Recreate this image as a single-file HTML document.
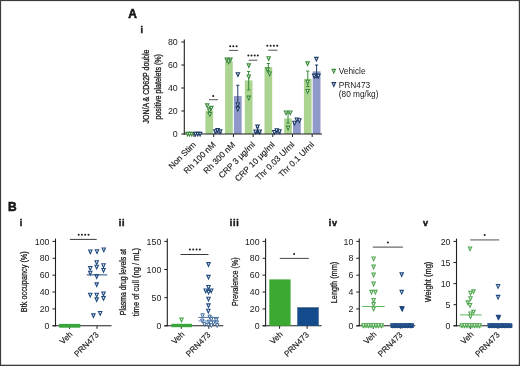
<!DOCTYPE html>
<html><head><meta charset="utf-8"><style>
html,body{margin:0;padding:0;background:#fff;overflow:hidden;width:520px;height:366px;}
svg{display:block;font-family:"Liberation Sans", sans-serif;will-change:transform;filter:blur(0.25px);}
</style></head><body>
<svg width="520" height="366" viewBox="0 0 520 366">
<rect x="0.00" y="0.00" width="520.00" height="1.10" fill="#3c3c3c"/>
<rect x="0.00" y="0.00" width="1.10" height="366.00" fill="#3c3c3c"/>
<rect x="518.80" y="0.00" width="1.20" height="366.00" fill="#3c3c3c"/>
<rect x="0.00" y="364.70" width="520.00" height="1.30" fill="#3c3c3c"/>
<text x="128.20" y="17.80" font-size="12" text-anchor="start" font-weight="bold" fill="#1a1a1a" stroke="#111" stroke-width="0.55">A</text>
<text x="140.60" y="32.80" font-size="9" text-anchor="start" font-weight="bold" fill="#1a1a1a" stroke="#111" stroke-width="0.45">i</text>
<line x1="184.30" y1="39.50" x2="184.30" y2="134.50" stroke="#1e1e1e" stroke-width="1.1"/>
<line x1="181.30" y1="134.00" x2="184.30" y2="134.00" stroke="#1e1e1e" stroke-width="1"/>
<text x="177.70" y="137.10" font-size="8.8" text-anchor="end" font-weight="normal" fill="#1a1a1a">0</text>
<line x1="181.30" y1="111.00" x2="184.30" y2="111.00" stroke="#1e1e1e" stroke-width="1"/>
<text x="177.70" y="114.10" font-size="8.8" text-anchor="end" font-weight="normal" fill="#1a1a1a">20</text>
<line x1="181.30" y1="88.00" x2="184.30" y2="88.00" stroke="#1e1e1e" stroke-width="1"/>
<text x="177.70" y="91.10" font-size="8.8" text-anchor="end" font-weight="normal" fill="#1a1a1a">40</text>
<line x1="181.30" y1="65.00" x2="184.30" y2="65.00" stroke="#1e1e1e" stroke-width="1"/>
<text x="177.70" y="68.10" font-size="8.8" text-anchor="end" font-weight="normal" fill="#1a1a1a">60</text>
<line x1="181.30" y1="42.00" x2="184.30" y2="42.00" stroke="#1e1e1e" stroke-width="1"/>
<text x="177.70" y="45.10" font-size="8.8" text-anchor="end" font-weight="normal" fill="#1a1a1a">80</text>
<text x="148.70" y="86.50" font-size="8.5" text-anchor="middle" font-weight="normal" fill="#1a1a1a" textLength="74" lengthAdjust="spacingAndGlyphs" transform="rotate(-90 148.70 86.50)" stroke="#1a1a1a" stroke-width="0.3">JON/A &amp; CD62P double</text>
<text x="161.00" y="86.80" font-size="8.5" text-anchor="middle" font-weight="normal" fill="#1a1a1a" textLength="65.5" lengthAdjust="spacingAndGlyphs" transform="rotate(-90 161.00 86.80)" stroke="#1a1a1a" stroke-width="0.3">positive platelets (%)</text>
<rect x="185.70" y="132.28" width="7.70" height="1.72" fill="#abd491"/>
<rect x="194.50" y="132.62" width="7.80" height="1.38" fill="#8f99c9"/>
<rect x="205.40" y="110.66" width="7.70" height="23.34" fill="#abd491"/>
<rect x="214.20" y="131.70" width="7.80" height="2.30" fill="#8f99c9"/>
<rect x="225.10" y="61.55" width="7.70" height="72.45" fill="#abd491"/>
<rect x="233.90" y="96.05" width="7.80" height="37.95" fill="#8f99c9"/>
<rect x="244.80" y="80.41" width="7.70" height="53.59" fill="#abd491"/>
<rect x="253.60" y="130.32" width="7.80" height="3.68" fill="#8f99c9"/>
<rect x="264.50" y="67.07" width="7.70" height="66.93" fill="#abd491"/>
<rect x="273.30" y="131.47" width="7.80" height="2.53" fill="#8f99c9"/>
<rect x="284.20" y="118.47" width="7.70" height="15.53" fill="#abd491"/>
<rect x="293.00" y="121.35" width="7.80" height="12.65" fill="#8f99c9"/>
<rect x="303.90" y="78.80" width="7.70" height="55.20" fill="#abd491"/>
<rect x="312.70" y="71.33" width="7.80" height="62.67" fill="#8f99c9"/>
<line x1="209.25" y1="107.78" x2="209.25" y2="113.53" stroke="#3a8a3a" stroke-width="1"/>
<line x1="207.65" y1="107.78" x2="210.85" y2="107.78" stroke="#3a8a3a" stroke-width="1"/>
<line x1="207.65" y1="113.53" x2="210.85" y2="113.53" stroke="#3a8a3a" stroke-width="1"/>
<line x1="237.80" y1="85.24" x2="237.80" y2="106.86" stroke="#1c3a66" stroke-width="1"/>
<line x1="236.20" y1="85.24" x2="239.40" y2="85.24" stroke="#1c3a66" stroke-width="1"/>
<line x1="236.20" y1="106.86" x2="239.40" y2="106.86" stroke="#1c3a66" stroke-width="1"/>
<line x1="248.65" y1="71.44" x2="248.65" y2="89.96" stroke="#3a8a3a" stroke-width="1"/>
<line x1="247.05" y1="71.44" x2="250.25" y2="71.44" stroke="#3a8a3a" stroke-width="1"/>
<line x1="247.05" y1="89.96" x2="250.25" y2="89.96" stroke="#3a8a3a" stroke-width="1"/>
<line x1="268.35" y1="63.51" x2="268.35" y2="70.98" stroke="#3a8a3a" stroke-width="1"/>
<line x1="266.75" y1="63.51" x2="269.95" y2="63.51" stroke="#3a8a3a" stroke-width="1"/>
<line x1="266.75" y1="70.98" x2="269.95" y2="70.98" stroke="#3a8a3a" stroke-width="1"/>
<line x1="288.05" y1="112.95" x2="288.05" y2="123.08" stroke="#3a8a3a" stroke-width="1"/>
<line x1="286.45" y1="112.95" x2="289.65" y2="112.95" stroke="#3a8a3a" stroke-width="1"/>
<line x1="286.45" y1="123.08" x2="289.65" y2="123.08" stroke="#3a8a3a" stroke-width="1"/>
<line x1="307.75" y1="71.09" x2="307.75" y2="86.51" stroke="#3a8a3a" stroke-width="1"/>
<line x1="306.15" y1="71.09" x2="309.35" y2="71.09" stroke="#3a8a3a" stroke-width="1"/>
<line x1="306.15" y1="86.51" x2="309.35" y2="86.51" stroke="#3a8a3a" stroke-width="1"/>
<line x1="316.60" y1="65.00" x2="316.60" y2="77.65" stroke="#1c3a66" stroke-width="1"/>
<line x1="315.00" y1="65.00" x2="318.20" y2="65.00" stroke="#1c3a66" stroke-width="1"/>
<line x1="315.00" y1="77.65" x2="318.20" y2="77.65" stroke="#1c3a66" stroke-width="1"/>
<line x1="257.50" y1="127.67" x2="257.50" y2="132.85" stroke="#1c3a66" stroke-width="1"/>
<line x1="255.90" y1="127.67" x2="259.10" y2="127.67" stroke="#1c3a66" stroke-width="1"/>
<line x1="255.90" y1="132.85" x2="259.10" y2="132.85" stroke="#1c3a66" stroke-width="1"/>
<line x1="183.80" y1="134.00" x2="322.00" y2="134.00" stroke="#1e1e1e" stroke-width="1.1"/>
<line x1="194.00" y1="134.00" x2="194.00" y2="137.00" stroke="#1e1e1e" stroke-width="1"/>
<line x1="213.70" y1="134.00" x2="213.70" y2="137.00" stroke="#1e1e1e" stroke-width="1"/>
<line x1="233.40" y1="134.00" x2="233.40" y2="137.00" stroke="#1e1e1e" stroke-width="1"/>
<line x1="253.10" y1="134.00" x2="253.10" y2="137.00" stroke="#1e1e1e" stroke-width="1"/>
<line x1="272.80" y1="134.00" x2="272.80" y2="137.00" stroke="#1e1e1e" stroke-width="1"/>
<line x1="292.50" y1="134.00" x2="292.50" y2="137.00" stroke="#1e1e1e" stroke-width="1"/>
<line x1="312.20" y1="134.00" x2="312.20" y2="137.00" stroke="#1e1e1e" stroke-width="1"/>
<polygon points="185.90,132.35 189.30,132.35 187.60,136.05" fill="#fff" stroke="#3a8a3a" stroke-width="1.1" stroke-linejoin="miter"/>
<polygon points="187.80,132.35 191.20,132.35 189.50,136.05" fill="#fff" stroke="#3a8a3a" stroke-width="1.1" stroke-linejoin="miter"/>
<polygon points="190.10,132.35 193.50,132.35 191.80,136.05" fill="#fff" stroke="#3a8a3a" stroke-width="1.1" stroke-linejoin="miter"/>
<polygon points="205.50,103.85 208.90,103.85 207.20,107.55" fill="#fff" stroke="#3a8a3a" stroke-width="1.1" stroke-linejoin="miter"/>
<polygon points="209.60,106.35 213.00,106.35 211.30,110.05" fill="#fff" stroke="#3a8a3a" stroke-width="1.1" stroke-linejoin="miter"/>
<polygon points="207.70,108.95 211.10,108.95 209.40,112.65" fill="#fff" stroke="#3a8a3a" stroke-width="1.1" stroke-linejoin="miter"/>
<polygon points="208.10,112.55 211.50,112.55 209.80,116.25" fill="#fff" stroke="#3a8a3a" stroke-width="1.1" stroke-linejoin="miter"/>
<polygon points="225.10,58.15 228.50,58.15 226.80,61.85" fill="#fff" stroke="#3a8a3a" stroke-width="1.1" stroke-linejoin="miter"/>
<polygon points="228.70,58.15 232.10,58.15 230.40,61.85" fill="#fff" stroke="#3a8a3a" stroke-width="1.1" stroke-linejoin="miter"/>
<polygon points="226.90,59.95 230.30,59.95 228.60,63.65" fill="#fff" stroke="#3a8a3a" stroke-width="1.1" stroke-linejoin="miter"/>
<polygon points="247.10,63.85 250.50,63.85 248.80,67.55" fill="#fff" stroke="#3a8a3a" stroke-width="1.1" stroke-linejoin="miter"/>
<polygon points="247.10,74.95 250.50,74.95 248.80,78.65" fill="#fff" stroke="#3a8a3a" stroke-width="1.1" stroke-linejoin="miter"/>
<polygon points="247.10,96.15 250.50,96.15 248.80,99.85" fill="#fff" stroke="#3a8a3a" stroke-width="1.1" stroke-linejoin="miter"/>
<polygon points="267.00,56.75 270.40,56.75 268.70,60.45" fill="#fff" stroke="#3a8a3a" stroke-width="1.1" stroke-linejoin="miter"/>
<polygon points="265.70,67.85 269.10,67.85 267.40,71.55" fill="#fff" stroke="#3a8a3a" stroke-width="1.1" stroke-linejoin="miter"/>
<polygon points="267.90,71.95 271.30,71.95 269.60,75.65" fill="#fff" stroke="#3a8a3a" stroke-width="1.1" stroke-linejoin="miter"/>
<polygon points="284.30,111.05 287.70,111.05 286.00,114.75" fill="#fff" stroke="#3a8a3a" stroke-width="1.1" stroke-linejoin="miter"/>
<polygon points="288.60,111.05 292.00,111.05 290.30,114.75" fill="#fff" stroke="#3a8a3a" stroke-width="1.1" stroke-linejoin="miter"/>
<polygon points="286.40,126.15 289.80,126.15 288.10,129.85" fill="#fff" stroke="#3a8a3a" stroke-width="1.1" stroke-linejoin="miter"/>
<polygon points="305.90,61.85 309.30,61.85 307.60,65.55" fill="#fff" stroke="#3a8a3a" stroke-width="1.1" stroke-linejoin="miter"/>
<polygon points="305.90,80.25 309.30,80.25 307.60,83.95" fill="#fff" stroke="#3a8a3a" stroke-width="1.1" stroke-linejoin="miter"/>
<polygon points="305.90,89.45 309.30,89.45 307.60,93.15" fill="#fff" stroke="#3a8a3a" stroke-width="1.1" stroke-linejoin="miter"/>
<polygon points="193.80,132.35 197.20,132.35 195.50,136.05" fill="#fff" stroke="#1c3a66" stroke-width="1.1" stroke-linejoin="miter"/>
<polygon points="196.10,132.35 199.50,132.35 197.80,136.05" fill="#fff" stroke="#1c3a66" stroke-width="1.1" stroke-linejoin="miter"/>
<polygon points="198.40,132.35 201.80,132.35 200.10,136.05" fill="#fff" stroke="#1c3a66" stroke-width="1.1" stroke-linejoin="miter"/>
<polygon points="213.70,129.85 217.10,129.85 215.40,133.55" fill="#fff" stroke="#1c3a66" stroke-width="1.1" stroke-linejoin="miter"/>
<polygon points="215.90,128.65 219.30,128.65 217.60,132.35" fill="#fff" stroke="#1c3a66" stroke-width="1.1" stroke-linejoin="miter"/>
<polygon points="218.50,129.85 221.90,129.85 220.20,133.55" fill="#fff" stroke="#1c3a66" stroke-width="1.1" stroke-linejoin="miter"/>
<polygon points="236.20,72.75 239.60,72.75 237.90,76.45" fill="#fff" stroke="#1c3a66" stroke-width="1.1" stroke-linejoin="miter"/>
<polygon points="236.10,102.95 239.50,102.95 237.80,106.65" fill="#fff" stroke="#1c3a66" stroke-width="1.1" stroke-linejoin="miter"/>
<polygon points="236.10,107.15 239.50,107.15 237.80,110.85" fill="#fff" stroke="#1c3a66" stroke-width="1.1" stroke-linejoin="miter"/>
<polygon points="255.80,125.15 259.20,125.15 257.50,128.85" fill="#fff" stroke="#1c3a66" stroke-width="1.1" stroke-linejoin="miter"/>
<polygon points="254.00,130.05 257.40,130.05 255.70,133.75" fill="#fff" stroke="#1c3a66" stroke-width="1.1" stroke-linejoin="miter"/>
<polygon points="257.90,130.05 261.30,130.05 259.60,133.75" fill="#fff" stroke="#1c3a66" stroke-width="1.1" stroke-linejoin="miter"/>
<polygon points="272.60,130.45 276.00,130.45 274.30,134.15" fill="#fff" stroke="#1c3a66" stroke-width="1.1" stroke-linejoin="miter"/>
<polygon points="275.10,128.75 278.50,128.75 276.80,132.45" fill="#fff" stroke="#1c3a66" stroke-width="1.1" stroke-linejoin="miter"/>
<polygon points="277.80,129.75 281.20,129.75 279.50,133.45" fill="#fff" stroke="#1c3a66" stroke-width="1.1" stroke-linejoin="miter"/>
<polygon points="292.80,121.25 296.20,121.25 294.50,124.95" fill="#fff" stroke="#1c3a66" stroke-width="1.1" stroke-linejoin="miter"/>
<polygon points="295.20,118.05 298.60,118.05 296.90,121.75" fill="#fff" stroke="#1c3a66" stroke-width="1.1" stroke-linejoin="miter"/>
<polygon points="297.70,118.75 301.10,118.75 299.40,122.45" fill="#fff" stroke="#1c3a66" stroke-width="1.1" stroke-linejoin="miter"/>
<polygon points="314.70,57.35 318.10,57.35 316.40,61.05" fill="#fff" stroke="#1c3a66" stroke-width="1.1" stroke-linejoin="miter"/>
<polygon points="312.50,74.15 315.90,74.15 314.20,77.85" fill="#fff" stroke="#1c3a66" stroke-width="1.1" stroke-linejoin="miter"/>
<polygon points="316.70,74.15 320.10,74.15 318.40,77.85" fill="#fff" stroke="#1c3a66" stroke-width="1.1" stroke-linejoin="miter"/>
<line x1="209.00" y1="99.70" x2="218.00" y2="99.70" stroke="#555" stroke-width="1.0"/>
<circle cx="213.20" cy="95.90" r="1.0" fill="#1a1a1a"/>
<line x1="229.00" y1="50.40" x2="238.20" y2="50.40" stroke="#555" stroke-width="1.0"/>
<circle cx="230.20" cy="46.30" r="1.0" fill="#1a1a1a"/>
<circle cx="233.30" cy="46.30" r="1.0" fill="#1a1a1a"/>
<circle cx="236.60" cy="46.30" r="1.0" fill="#1a1a1a"/>
<line x1="248.60" y1="60.20" x2="257.50" y2="60.20" stroke="#555" stroke-width="1.0"/>
<circle cx="248.40" cy="55.60" r="1.0" fill="#1a1a1a"/>
<circle cx="251.50" cy="55.60" r="1.0" fill="#1a1a1a"/>
<circle cx="254.70" cy="55.60" r="1.0" fill="#1a1a1a"/>
<circle cx="257.80" cy="55.60" r="1.0" fill="#1a1a1a"/>
<line x1="268.20" y1="50.20" x2="277.50" y2="50.20" stroke="#555" stroke-width="1.0"/>
<circle cx="267.30" cy="45.80" r="1.0" fill="#1a1a1a"/>
<circle cx="270.60" cy="45.80" r="1.0" fill="#1a1a1a"/>
<circle cx="273.90" cy="45.80" r="1.0" fill="#1a1a1a"/>
<circle cx="277.20" cy="45.80" r="1.0" fill="#1a1a1a"/>
<text x="196.40" y="145.20" font-size="8.4" text-anchor="end" font-weight="normal" fill="#1a1a1a" transform="rotate(-45 196.40 145.20)" stroke="#1a1a1a" stroke-width="0.15">Non Stim</text>
<text x="216.10" y="145.20" font-size="8.4" text-anchor="end" font-weight="normal" fill="#1a1a1a" transform="rotate(-45 216.10 145.20)" stroke="#1a1a1a" stroke-width="0.15">Rh 100 nM</text>
<text x="235.80" y="145.20" font-size="8.4" text-anchor="end" font-weight="normal" fill="#1a1a1a" transform="rotate(-45 235.80 145.20)" stroke="#1a1a1a" stroke-width="0.15">Rh 300 nM</text>
<text x="255.50" y="145.20" font-size="8.4" text-anchor="end" font-weight="normal" fill="#1a1a1a" transform="rotate(-45 255.50 145.20)" stroke="#1a1a1a" stroke-width="0.15">CRP 3 μg/ml</text>
<text x="275.20" y="145.20" font-size="8.4" text-anchor="end" font-weight="normal" fill="#1a1a1a" transform="rotate(-45 275.20 145.20)" stroke="#1a1a1a" stroke-width="0.15">CRP 10 μg/ml</text>
<text x="294.90" y="145.20" font-size="8.4" text-anchor="end" font-weight="normal" fill="#1a1a1a" transform="rotate(-45 294.90 145.20)" stroke="#1a1a1a" stroke-width="0.15">Thr 0.03 U/ml</text>
<text x="314.60" y="145.20" font-size="8.4" text-anchor="end" font-weight="normal" fill="#1a1a1a" transform="rotate(-45 314.60 145.20)" stroke="#1a1a1a" stroke-width="0.15">Thr 0.1 U/ml</text>
<polygon points="332.10,69.35 335.50,69.35 333.80,73.05" fill="#fff" stroke="#3a8a3a" stroke-width="1.1" stroke-linejoin="miter"/>
<text x="338.80" y="73.80" font-size="8.3" text-anchor="start" font-weight="normal" fill="#1a1a1a">Vehicle</text>
<polygon points="332.10,82.65 335.50,82.65 333.80,86.35" fill="#fff" stroke="#1c3a66" stroke-width="1.1" stroke-linejoin="miter"/>
<text x="338.80" y="87.60" font-size="8.3" text-anchor="start" font-weight="normal" fill="#1a1a1a">PRN473</text>
<text x="338.80" y="96.80" font-size="8.3" text-anchor="start" font-weight="normal" fill="#1a1a1a">(80 mg/kg)</text>
<text x="7.90" y="210.90" font-size="12" text-anchor="start" font-weight="bold" fill="#1a1a1a" stroke="#111" stroke-width="0.55">B</text>
<text x="19.70" y="226.20" font-size="9" text-anchor="start" font-weight="bold" fill="#1a1a1a" letter-spacing="0.7" stroke="#111" stroke-width="0.45">i</text>
<text x="118.70" y="226.20" font-size="9" text-anchor="start" font-weight="bold" fill="#1a1a1a" letter-spacing="0.7" stroke="#111" stroke-width="0.45">ii</text>
<text x="229.80" y="226.20" font-size="9" text-anchor="start" font-weight="bold" fill="#1a1a1a" letter-spacing="0.7" stroke="#111" stroke-width="0.45">iii</text>
<text x="328.80" y="226.20" font-size="9" text-anchor="start" font-weight="bold" fill="#1a1a1a" letter-spacing="0.7" stroke="#111" stroke-width="0.45">iv</text>
<text x="422.90" y="226.20" font-size="9" text-anchor="start" font-weight="bold" fill="#1a1a1a" letter-spacing="0.7" stroke="#111" stroke-width="0.45">v</text>
<line x1="55.50" y1="238.60" x2="55.50" y2="326.30" stroke="#1e1e1e" stroke-width="1.1"/>
<line x1="52.50" y1="325.80" x2="111.50" y2="325.80" stroke="#1e1e1e" stroke-width="1.1"/>
<line x1="52.50" y1="325.80" x2="55.50" y2="325.80" stroke="#1e1e1e" stroke-width="1"/>
<text x="49.50" y="328.90" font-size="8.8" text-anchor="end" font-weight="normal" fill="#1a1a1a">0</text>
<line x1="52.50" y1="308.92" x2="55.50" y2="308.92" stroke="#1e1e1e" stroke-width="1"/>
<text x="49.50" y="312.02" font-size="8.8" text-anchor="end" font-weight="normal" fill="#1a1a1a">20</text>
<line x1="52.50" y1="292.04" x2="55.50" y2="292.04" stroke="#1e1e1e" stroke-width="1"/>
<text x="49.50" y="295.14" font-size="8.8" text-anchor="end" font-weight="normal" fill="#1a1a1a">40</text>
<line x1="52.50" y1="275.16" x2="55.50" y2="275.16" stroke="#1e1e1e" stroke-width="1"/>
<text x="49.50" y="278.26" font-size="8.8" text-anchor="end" font-weight="normal" fill="#1a1a1a">60</text>
<line x1="52.50" y1="258.28" x2="55.50" y2="258.28" stroke="#1e1e1e" stroke-width="1"/>
<text x="49.50" y="261.38" font-size="8.8" text-anchor="end" font-weight="normal" fill="#1a1a1a">80</text>
<line x1="52.50" y1="241.40" x2="55.50" y2="241.40" stroke="#1e1e1e" stroke-width="1"/>
<text x="49.50" y="244.50" font-size="8.8" text-anchor="end" font-weight="normal" fill="#1a1a1a">100</text>
<line x1="69.50" y1="325.80" x2="69.50" y2="328.80" stroke="#1e1e1e" stroke-width="1"/>
<line x1="97.00" y1="325.80" x2="97.00" y2="328.80" stroke="#1e1e1e" stroke-width="1"/>
<text x="73.10" y="334.80" font-size="8.2" text-anchor="end" font-weight="normal" fill="#1a1a1a" transform="rotate(-45 73.10 334.80)" stroke="#1a1a1a" stroke-width="0.15">Veh</text>
<text x="99.30" y="335.30" font-size="8.2" text-anchor="end" font-weight="normal" fill="#1a1a1a" transform="rotate(-45 99.30 335.30)" stroke="#1a1a1a" stroke-width="0.15">PRN473</text>
<line x1="167.30" y1="238.60" x2="167.30" y2="326.30" stroke="#1e1e1e" stroke-width="1.1"/>
<line x1="164.30" y1="325.80" x2="223.30" y2="325.80" stroke="#1e1e1e" stroke-width="1.1"/>
<line x1="164.30" y1="325.80" x2="167.30" y2="325.80" stroke="#1e1e1e" stroke-width="1"/>
<text x="161.30" y="328.90" font-size="8.8" text-anchor="end" font-weight="normal" fill="#1a1a1a">0</text>
<line x1="164.30" y1="297.67" x2="167.30" y2="297.67" stroke="#1e1e1e" stroke-width="1"/>
<text x="161.30" y="300.77" font-size="8.8" text-anchor="end" font-weight="normal" fill="#1a1a1a">50</text>
<line x1="164.30" y1="269.53" x2="167.30" y2="269.53" stroke="#1e1e1e" stroke-width="1"/>
<text x="161.30" y="272.63" font-size="8.8" text-anchor="end" font-weight="normal" fill="#1a1a1a">100</text>
<line x1="164.30" y1="241.40" x2="167.30" y2="241.40" stroke="#1e1e1e" stroke-width="1"/>
<text x="161.30" y="244.50" font-size="8.8" text-anchor="end" font-weight="normal" fill="#1a1a1a">150</text>
<line x1="181.30" y1="325.80" x2="181.30" y2="328.80" stroke="#1e1e1e" stroke-width="1"/>
<line x1="208.80" y1="325.80" x2="208.80" y2="328.80" stroke="#1e1e1e" stroke-width="1"/>
<text x="184.90" y="334.80" font-size="8.2" text-anchor="end" font-weight="normal" fill="#1a1a1a" transform="rotate(-45 184.90 334.80)" stroke="#1a1a1a" stroke-width="0.15">Veh</text>
<text x="211.10" y="335.30" font-size="8.2" text-anchor="end" font-weight="normal" fill="#1a1a1a" transform="rotate(-45 211.10 335.30)" stroke="#1a1a1a" stroke-width="0.15">PRN473</text>
<line x1="265.60" y1="238.60" x2="265.60" y2="326.30" stroke="#1e1e1e" stroke-width="1.1"/>
<line x1="262.60" y1="325.80" x2="321.60" y2="325.80" stroke="#1e1e1e" stroke-width="1.1"/>
<line x1="262.60" y1="325.80" x2="265.60" y2="325.80" stroke="#1e1e1e" stroke-width="1"/>
<text x="259.60" y="328.90" font-size="8.8" text-anchor="end" font-weight="normal" fill="#1a1a1a">0</text>
<line x1="262.60" y1="308.92" x2="265.60" y2="308.92" stroke="#1e1e1e" stroke-width="1"/>
<text x="259.60" y="312.02" font-size="8.8" text-anchor="end" font-weight="normal" fill="#1a1a1a">20</text>
<line x1="262.60" y1="292.04" x2="265.60" y2="292.04" stroke="#1e1e1e" stroke-width="1"/>
<text x="259.60" y="295.14" font-size="8.8" text-anchor="end" font-weight="normal" fill="#1a1a1a">40</text>
<line x1="262.60" y1="275.16" x2="265.60" y2="275.16" stroke="#1e1e1e" stroke-width="1"/>
<text x="259.60" y="278.26" font-size="8.8" text-anchor="end" font-weight="normal" fill="#1a1a1a">60</text>
<line x1="262.60" y1="258.28" x2="265.60" y2="258.28" stroke="#1e1e1e" stroke-width="1"/>
<text x="259.60" y="261.38" font-size="8.8" text-anchor="end" font-weight="normal" fill="#1a1a1a">80</text>
<line x1="262.60" y1="241.40" x2="265.60" y2="241.40" stroke="#1e1e1e" stroke-width="1"/>
<text x="259.60" y="244.50" font-size="8.8" text-anchor="end" font-weight="normal" fill="#1a1a1a">100</text>
<line x1="279.60" y1="325.80" x2="279.60" y2="328.80" stroke="#1e1e1e" stroke-width="1"/>
<line x1="307.10" y1="325.80" x2="307.10" y2="328.80" stroke="#1e1e1e" stroke-width="1"/>
<text x="283.20" y="334.80" font-size="8.2" text-anchor="end" font-weight="normal" fill="#1a1a1a" transform="rotate(-45 283.20 334.80)" stroke="#1a1a1a" stroke-width="0.15">Veh</text>
<text x="309.40" y="335.30" font-size="8.2" text-anchor="end" font-weight="normal" fill="#1a1a1a" transform="rotate(-45 309.40 335.30)" stroke="#1a1a1a" stroke-width="0.15">PRN473</text>
<line x1="359.30" y1="238.60" x2="359.30" y2="326.30" stroke="#1e1e1e" stroke-width="1.1"/>
<line x1="356.30" y1="325.80" x2="415.30" y2="325.80" stroke="#1e1e1e" stroke-width="1.1"/>
<line x1="356.30" y1="325.80" x2="359.30" y2="325.80" stroke="#1e1e1e" stroke-width="1"/>
<text x="353.30" y="328.90" font-size="8.8" text-anchor="end" font-weight="normal" fill="#1a1a1a">0</text>
<line x1="356.30" y1="308.92" x2="359.30" y2="308.92" stroke="#1e1e1e" stroke-width="1"/>
<text x="353.30" y="312.02" font-size="8.8" text-anchor="end" font-weight="normal" fill="#1a1a1a">2</text>
<line x1="356.30" y1="292.04" x2="359.30" y2="292.04" stroke="#1e1e1e" stroke-width="1"/>
<text x="353.30" y="295.14" font-size="8.8" text-anchor="end" font-weight="normal" fill="#1a1a1a">4</text>
<line x1="356.30" y1="275.16" x2="359.30" y2="275.16" stroke="#1e1e1e" stroke-width="1"/>
<text x="353.30" y="278.26" font-size="8.8" text-anchor="end" font-weight="normal" fill="#1a1a1a">6</text>
<line x1="356.30" y1="258.28" x2="359.30" y2="258.28" stroke="#1e1e1e" stroke-width="1"/>
<text x="353.30" y="261.38" font-size="8.8" text-anchor="end" font-weight="normal" fill="#1a1a1a">8</text>
<line x1="356.30" y1="241.40" x2="359.30" y2="241.40" stroke="#1e1e1e" stroke-width="1"/>
<text x="353.30" y="244.50" font-size="8.8" text-anchor="end" font-weight="normal" fill="#1a1a1a">10</text>
<line x1="373.30" y1="325.80" x2="373.30" y2="328.80" stroke="#1e1e1e" stroke-width="1"/>
<line x1="400.80" y1="325.80" x2="400.80" y2="328.80" stroke="#1e1e1e" stroke-width="1"/>
<text x="376.90" y="334.80" font-size="8.2" text-anchor="end" font-weight="normal" fill="#1a1a1a" transform="rotate(-45 376.90 334.80)" stroke="#1a1a1a" stroke-width="0.15">Veh</text>
<text x="403.10" y="335.30" font-size="8.2" text-anchor="end" font-weight="normal" fill="#1a1a1a" transform="rotate(-45 403.10 335.30)" stroke="#1a1a1a" stroke-width="0.15">PRN473</text>
<line x1="456.50" y1="238.60" x2="456.50" y2="326.30" stroke="#1e1e1e" stroke-width="1.1"/>
<line x1="453.50" y1="325.80" x2="512.50" y2="325.80" stroke="#1e1e1e" stroke-width="1.1"/>
<line x1="453.50" y1="325.80" x2="456.50" y2="325.80" stroke="#1e1e1e" stroke-width="1"/>
<text x="450.50" y="328.90" font-size="8.8" text-anchor="end" font-weight="normal" fill="#1a1a1a">0</text>
<line x1="453.50" y1="304.70" x2="456.50" y2="304.70" stroke="#1e1e1e" stroke-width="1"/>
<text x="450.50" y="307.80" font-size="8.8" text-anchor="end" font-weight="normal" fill="#1a1a1a">5</text>
<line x1="453.50" y1="283.60" x2="456.50" y2="283.60" stroke="#1e1e1e" stroke-width="1"/>
<text x="450.50" y="286.70" font-size="8.8" text-anchor="end" font-weight="normal" fill="#1a1a1a">10</text>
<line x1="453.50" y1="262.50" x2="456.50" y2="262.50" stroke="#1e1e1e" stroke-width="1"/>
<text x="450.50" y="265.60" font-size="8.8" text-anchor="end" font-weight="normal" fill="#1a1a1a">15</text>
<line x1="453.50" y1="241.40" x2="456.50" y2="241.40" stroke="#1e1e1e" stroke-width="1"/>
<text x="450.50" y="244.50" font-size="8.8" text-anchor="end" font-weight="normal" fill="#1a1a1a">20</text>
<line x1="470.50" y1="325.80" x2="470.50" y2="328.80" stroke="#1e1e1e" stroke-width="1"/>
<line x1="498.00" y1="325.80" x2="498.00" y2="328.80" stroke="#1e1e1e" stroke-width="1"/>
<text x="474.10" y="334.80" font-size="8.2" text-anchor="end" font-weight="normal" fill="#1a1a1a" transform="rotate(-45 474.10 334.80)" stroke="#1a1a1a" stroke-width="0.15">Veh</text>
<text x="500.30" y="335.30" font-size="8.2" text-anchor="end" font-weight="normal" fill="#1a1a1a" transform="rotate(-45 500.30 335.30)" stroke="#1a1a1a" stroke-width="0.15">PRN473</text>
<text x="27.50" y="281.70" font-size="8.4" text-anchor="middle" font-weight="normal" fill="#1a1a1a" textLength="61" lengthAdjust="spacingAndGlyphs" transform="rotate(-90 27.50 281.70)" stroke="#1a1a1a" stroke-width="0.25">Btk occupancy (%)</text>
<text x="126.30" y="282.10" font-size="8.4" text-anchor="middle" font-weight="normal" fill="#1a1a1a" textLength="66.2" lengthAdjust="spacingAndGlyphs" transform="rotate(-90 126.30 282.10)" stroke="#1a1a1a" stroke-width="0.25">Plasma drug levels at</text>
<text x="138.60" y="282.00" font-size="8.4" text-anchor="middle" font-weight="normal" fill="#1a1a1a" textLength="68.3" lengthAdjust="spacingAndGlyphs" transform="rotate(-90 138.60 282.00)" stroke="#1a1a1a" stroke-width="0.25">time of cull (ng / mL)</text>
<text x="237.60" y="281.70" font-size="8.4" text-anchor="middle" font-weight="normal" fill="#1a1a1a" textLength="48.7" lengthAdjust="spacingAndGlyphs" transform="rotate(-90 237.60 281.70)" stroke="#1a1a1a" stroke-width="0.25">Prevalence (%)</text>
<text x="336.50" y="282.50" font-size="8.4" text-anchor="middle" font-weight="normal" fill="#1a1a1a" textLength="41.5" lengthAdjust="spacingAndGlyphs" transform="rotate(-90 336.50 282.50)" stroke="#1a1a1a" stroke-width="0.25">Length (mm)</text>
<text x="431.00" y="282.00" font-size="8.4" text-anchor="middle" font-weight="normal" fill="#1a1a1a" textLength="40.6" lengthAdjust="spacingAndGlyphs" transform="rotate(-90 431.00 282.00)" stroke="#1a1a1a" stroke-width="0.25">Weight (mg)</text>
<rect x="59.10" y="323.90" width="21.20" height="3.80" fill="#3aa53a"/>
<polygon points="88.65,249.95 92.05,249.95 90.35,253.65" fill="#fff" stroke="#1f4a80" stroke-width="1.1" stroke-linejoin="miter"/>
<polygon points="95.30,249.75 98.70,249.75 97.00,253.45" fill="#fff" stroke="#1f4a80" stroke-width="1.1" stroke-linejoin="miter"/>
<polygon points="102.10,247.95 105.50,247.95 103.80,251.65" fill="#fff" stroke="#1f4a80" stroke-width="1.1" stroke-linejoin="miter"/>
<polygon points="95.00,260.75 98.40,260.75 96.70,264.45" fill="#fff" stroke="#1f4a80" stroke-width="1.1" stroke-linejoin="miter"/>
<polygon points="95.00,265.25 98.40,265.25 96.70,268.95" fill="#fff" stroke="#1f4a80" stroke-width="1.1" stroke-linejoin="miter"/>
<polygon points="101.80,263.75 105.20,263.75 103.50,267.45" fill="#fff" stroke="#1f4a80" stroke-width="1.1" stroke-linejoin="miter"/>
<polygon points="101.80,268.55 105.20,268.55 103.50,272.25" fill="#fff" stroke="#1f4a80" stroke-width="1.1" stroke-linejoin="miter"/>
<polygon points="88.55,266.45 91.95,266.45 90.25,270.15" fill="#fff" stroke="#1f4a80" stroke-width="1.1" stroke-linejoin="miter"/>
<polygon points="88.55,271.25 91.95,271.25 90.25,274.95" fill="#fff" stroke="#1f4a80" stroke-width="1.1" stroke-linejoin="miter"/>
<polygon points="95.00,274.65 98.40,274.65 96.70,278.35" fill="#fff" stroke="#1f4a80" stroke-width="1.1" stroke-linejoin="miter"/>
<polygon points="95.00,282.85 98.40,282.85 96.70,286.55" fill="#fff" stroke="#1f4a80" stroke-width="1.1" stroke-linejoin="miter"/>
<polygon points="88.55,293.25 91.95,293.25 90.25,296.95" fill="#fff" stroke="#1f4a80" stroke-width="1.1" stroke-linejoin="miter"/>
<polygon points="95.00,293.25 98.40,293.25 96.70,296.95" fill="#fff" stroke="#1f4a80" stroke-width="1.1" stroke-linejoin="miter"/>
<polygon points="95.00,297.85 98.40,297.85 96.70,301.55" fill="#fff" stroke="#1f4a80" stroke-width="1.1" stroke-linejoin="miter"/>
<polygon points="101.80,291.95 105.20,291.95 103.50,295.65" fill="#fff" stroke="#1f4a80" stroke-width="1.1" stroke-linejoin="miter"/>
<polygon points="101.80,296.45 105.20,296.45 103.50,300.15" fill="#fff" stroke="#1f4a80" stroke-width="1.1" stroke-linejoin="miter"/>
<polygon points="91.70,313.85 95.10,313.85 93.40,317.55" fill="#fff" stroke="#1f4a80" stroke-width="1.1" stroke-linejoin="miter"/>
<polygon points="98.50,311.45 101.90,311.45 100.20,315.15" fill="#fff" stroke="#1f4a80" stroke-width="1.1" stroke-linejoin="miter"/>
<line x1="86.80" y1="274.90" x2="107.30" y2="274.90" stroke="#1f4a80" stroke-width="1"/>
<line x1="69.90" y1="239.40" x2="96.70" y2="239.40" stroke="#222" stroke-width="0.9"/>
<circle cx="78.70" cy="234.70" r="1.0" fill="#1a1a1a"/>
<circle cx="81.90" cy="234.70" r="1.0" fill="#1a1a1a"/>
<circle cx="85.20" cy="234.70" r="1.0" fill="#1a1a1a"/>
<circle cx="88.50" cy="234.70" r="1.0" fill="#1a1a1a"/>
<rect x="171.40" y="323.80" width="20.60" height="3.40" fill="#3aa53a"/>
<polygon points="179.80,318.15 183.20,318.15 181.50,321.85" fill="#fff" stroke="#52a852" stroke-width="1.1" stroke-linejoin="miter"/>
<polygon points="206.80,262.65 210.20,262.65 208.50,266.35" fill="#fff" stroke="#1f4a80" stroke-width="1.1" stroke-linejoin="miter"/>
<polygon points="206.80,275.35 210.20,275.35 208.50,279.05" fill="#fff" stroke="#1f4a80" stroke-width="1.1" stroke-linejoin="miter"/>
<polygon points="206.80,285.55 210.20,285.55 208.50,289.25" fill="#fff" stroke="#1f4a80" stroke-width="1.1" stroke-linejoin="miter"/>
<polygon points="204.00,288.95 207.40,288.95 205.70,292.65" fill="#fff" stroke="#1f4a80" stroke-width="1.1" stroke-linejoin="miter"/>
<polygon points="209.50,288.95 212.90,288.95 211.20,292.65" fill="#fff" stroke="#1f4a80" stroke-width="1.1" stroke-linejoin="miter"/>
<polygon points="206.80,290.35 210.20,290.35 208.50,294.05" fill="#fff" stroke="#1f4a80" stroke-width="1.1" stroke-linejoin="miter"/>
<polygon points="206.80,297.25 210.20,297.25 208.50,300.95" fill="#fff" stroke="#1f4a80" stroke-width="1.1" stroke-linejoin="miter"/>
<polygon points="206.80,303.85 210.20,303.85 208.50,307.55" fill="#fff" stroke="#1f4a80" stroke-width="1.1" stroke-linejoin="miter"/>
<polygon points="206.60,309.25 210.00,309.25 208.30,312.95" fill="#fff" stroke="#1f4a80" stroke-width="1.1" stroke-linejoin="miter"/>
<polygon points="200.90,313.75 204.30,313.75 202.60,317.45" fill="#fff" stroke="#2d5a90" stroke-width="0.9" stroke-linejoin="miter"/>
<polygon points="208.00,315.15 211.40,315.15 209.70,318.85" fill="#fff" stroke="#2d5a90" stroke-width="0.9" stroke-linejoin="miter"/>
<polygon points="209.70,317.25 213.10,317.25 211.40,320.95" fill="#fff" stroke="#2d5a90" stroke-width="0.9" stroke-linejoin="miter"/>
<polygon points="200.60,319.05 204.00,319.05 202.30,322.75" fill="#fff" stroke="#2d5a90" stroke-width="0.9" stroke-linejoin="miter"/>
<polygon points="207.30,320.15 210.70,320.15 209.00,323.85" fill="#fff" stroke="#2d5a90" stroke-width="0.9" stroke-linejoin="miter"/>
<polygon points="214.40,318.35 217.80,318.35 216.10,322.05" fill="#fff" stroke="#2d5a90" stroke-width="0.9" stroke-linejoin="miter"/>
<polygon points="215.10,320.85 218.50,320.85 216.80,324.55" fill="#fff" stroke="#2d5a90" stroke-width="0.9" stroke-linejoin="miter"/>
<polygon points="206.60,323.15 210.00,323.15 208.30,326.85" fill="#fff" stroke="#2d5a90" stroke-width="0.9" stroke-linejoin="miter"/>
<polygon points="209.70,323.75 213.10,323.75 211.40,327.45" fill="#fff" stroke="#2d5a90" stroke-width="0.9" stroke-linejoin="miter"/>
<polygon points="215.50,323.75 218.90,323.75 217.20,327.45" fill="#fff" stroke="#2d5a90" stroke-width="0.9" stroke-linejoin="miter"/>
<polygon points="202.80,322.65 206.20,322.65 204.50,326.35" fill="#fff" stroke="#2d5a90" stroke-width="0.9" stroke-linejoin="miter"/>
<polygon points="211.80,320.95 215.20,320.95 213.50,324.65" fill="#fff" stroke="#2d5a90" stroke-width="0.9" stroke-linejoin="miter"/>
<line x1="198.40" y1="317.40" x2="219.00" y2="317.40" stroke="#4a72a8" stroke-width="1.0"/>
<line x1="198.40" y1="320.90" x2="218.30" y2="320.90" stroke="#5a80b5" stroke-width="0.9"/>
<line x1="180.50" y1="254.50" x2="208.50" y2="254.50" stroke="#222" stroke-width="0.9"/>
<circle cx="189.90" cy="249.60" r="1.0" fill="#1a1a1a"/>
<circle cx="193.20" cy="249.60" r="1.0" fill="#1a1a1a"/>
<circle cx="196.60" cy="249.60" r="1.0" fill="#1a1a1a"/>
<circle cx="199.90" cy="249.60" r="1.0" fill="#1a1a1a"/>
<rect x="269.30" y="279.38" width="21.30" height="46.42" fill="#3caa32"/>
<rect x="297.30" y="307.65" width="21.40" height="18.15" fill="#144b8c"/>
<line x1="297.30" y1="307.95" x2="318.70" y2="307.95" stroke="#0c335f" stroke-width="0.8"/>
<line x1="279.80" y1="258.40" x2="308.90" y2="258.40" stroke="#333" stroke-width="0.9"/>
<circle cx="294.10" cy="253.90" r="1.0" fill="#1a1a1a"/>
<rect x="361.50" y="324.00" width="22.20" height="3.60" fill="#8fd08a"/>
<polygon points="361.80,323.75 365.20,323.75 363.50,327.45" fill="#fff" stroke="#52a852" stroke-width="1.1" stroke-linejoin="miter"/>
<polygon points="364.30,323.75 367.70,323.75 366.00,327.45" fill="#fff" stroke="#52a852" stroke-width="1.1" stroke-linejoin="miter"/>
<polygon points="366.80,323.75 370.20,323.75 368.50,327.45" fill="#fff" stroke="#52a852" stroke-width="1.1" stroke-linejoin="miter"/>
<polygon points="369.30,323.75 372.70,323.75 371.00,327.45" fill="#fff" stroke="#52a852" stroke-width="1.1" stroke-linejoin="miter"/>
<polygon points="371.80,323.75 375.20,323.75 373.50,327.45" fill="#fff" stroke="#52a852" stroke-width="1.1" stroke-linejoin="miter"/>
<polygon points="374.30,323.75 377.70,323.75 376.00,327.45" fill="#fff" stroke="#52a852" stroke-width="1.1" stroke-linejoin="miter"/>
<polygon points="376.80,323.75 380.20,323.75 378.50,327.45" fill="#fff" stroke="#52a852" stroke-width="1.1" stroke-linejoin="miter"/>
<polygon points="379.80,323.75 383.20,323.75 381.50,327.45" fill="#fff" stroke="#52a852" stroke-width="1.1" stroke-linejoin="miter"/>
<polygon points="371.90,257.05 375.30,257.05 373.60,260.75" fill="#fff" stroke="#52a852" stroke-width="1.1" stroke-linejoin="miter"/>
<polygon points="371.90,265.15 375.30,265.15 373.60,268.85" fill="#fff" stroke="#52a852" stroke-width="1.1" stroke-linejoin="miter"/>
<polygon points="371.90,273.15 375.30,273.15 373.60,276.85" fill="#fff" stroke="#52a852" stroke-width="1.1" stroke-linejoin="miter"/>
<polygon points="371.90,282.15 375.30,282.15 373.60,285.85" fill="#fff" stroke="#52a852" stroke-width="1.1" stroke-linejoin="miter"/>
<polygon points="371.90,298.45 375.30,298.45 373.60,302.15" fill="#fff" stroke="#52a852" stroke-width="1.1" stroke-linejoin="miter"/>
<polygon points="371.90,302.45 375.30,302.45 373.60,306.15" fill="#fff" stroke="#52a852" stroke-width="1.1" stroke-linejoin="miter"/>
<polygon points="371.90,307.05 375.30,307.05 373.60,310.75" fill="#fff" stroke="#52a852" stroke-width="1.1" stroke-linejoin="miter"/>
<polygon points="369.80,290.35 373.20,290.35 371.50,294.05" fill="#fff" stroke="#52a852" stroke-width="1.1" stroke-linejoin="miter"/>
<polygon points="373.70,290.35 377.10,290.35 375.40,294.05" fill="#fff" stroke="#52a852" stroke-width="1.1" stroke-linejoin="miter"/>
<line x1="362.20" y1="306.50" x2="384.70" y2="306.50" stroke="#5cb85c" stroke-width="1"/>
<polygon points="400.00,272.85 403.40,272.85 401.70,276.55" fill="#fff" stroke="#1f4a80" stroke-width="1.1" stroke-linejoin="miter"/>
<polygon points="400.00,290.35 403.40,290.35 401.70,294.05" fill="#fff" stroke="#1f4a80" stroke-width="1.1" stroke-linejoin="miter"/>
<polygon points="400.00,306.55 403.40,306.55 401.70,310.25" fill="#2a4f80" stroke="#1f4a80" stroke-width="1.1" stroke-linejoin="miter"/>
<polygon points="400.60,307.15 404.00,307.15 402.30,310.85" fill="#2a4f80" stroke="#1f4a80" stroke-width="1.1" stroke-linejoin="miter"/>
<rect x="390.50" y="324.20" width="23.30" height="3.80" fill="#224f88"/>
<polygon points="390.80,323.75 394.20,323.75 392.50,327.45" fill="#3d66a0" stroke="#1f4a80" stroke-width="1.1" stroke-linejoin="miter"/>
<polygon points="393.30,323.75 396.70,323.75 395.00,327.45" fill="#3d66a0" stroke="#1f4a80" stroke-width="1.1" stroke-linejoin="miter"/>
<polygon points="395.80,323.75 399.20,323.75 397.50,327.45" fill="#3d66a0" stroke="#1f4a80" stroke-width="1.1" stroke-linejoin="miter"/>
<polygon points="398.30,323.75 401.70,323.75 400.00,327.45" fill="#3d66a0" stroke="#1f4a80" stroke-width="1.1" stroke-linejoin="miter"/>
<polygon points="400.80,323.75 404.20,323.75 402.50,327.45" fill="#3d66a0" stroke="#1f4a80" stroke-width="1.1" stroke-linejoin="miter"/>
<polygon points="403.30,323.75 406.70,323.75 405.00,327.45" fill="#3d66a0" stroke="#1f4a80" stroke-width="1.1" stroke-linejoin="miter"/>
<polygon points="405.80,323.75 409.20,323.75 407.50,327.45" fill="#3d66a0" stroke="#1f4a80" stroke-width="1.1" stroke-linejoin="miter"/>
<polygon points="408.30,323.75 411.70,323.75 410.00,327.45" fill="#3d66a0" stroke="#1f4a80" stroke-width="1.1" stroke-linejoin="miter"/>
<polygon points="410.10,323.75 413.50,323.75 411.80,327.45" fill="#3d66a0" stroke="#1f4a80" stroke-width="1.1" stroke-linejoin="miter"/>
<line x1="372.80" y1="247.10" x2="402.90" y2="247.10" stroke="#444" stroke-width="1.0"/>
<circle cx="387.90" cy="242.60" r="1.0" fill="#1a1a1a"/>
<rect x="459.80" y="324.00" width="21.80" height="3.60" fill="#8fd08a"/>
<polygon points="460.30,323.75 463.70,323.75 462.00,327.45" fill="#fff" stroke="#52a852" stroke-width="1.1" stroke-linejoin="miter"/>
<polygon points="462.80,323.75 466.20,323.75 464.50,327.45" fill="#fff" stroke="#52a852" stroke-width="1.1" stroke-linejoin="miter"/>
<polygon points="465.30,323.75 468.70,323.75 467.00,327.45" fill="#fff" stroke="#52a852" stroke-width="1.1" stroke-linejoin="miter"/>
<polygon points="467.80,323.75 471.20,323.75 469.50,327.45" fill="#fff" stroke="#52a852" stroke-width="1.1" stroke-linejoin="miter"/>
<polygon points="470.30,323.75 473.70,323.75 472.00,327.45" fill="#fff" stroke="#52a852" stroke-width="1.1" stroke-linejoin="miter"/>
<polygon points="472.80,323.75 476.20,323.75 474.50,327.45" fill="#fff" stroke="#52a852" stroke-width="1.1" stroke-linejoin="miter"/>
<polygon points="475.30,323.75 478.70,323.75 477.00,327.45" fill="#fff" stroke="#52a852" stroke-width="1.1" stroke-linejoin="miter"/>
<polygon points="477.80,323.75 481.20,323.75 479.50,327.45" fill="#fff" stroke="#52a852" stroke-width="1.1" stroke-linejoin="miter"/>
<polygon points="468.30,247.05 471.70,247.05 470.00,250.75" fill="#fff" stroke="#52a852" stroke-width="1.1" stroke-linejoin="miter"/>
<polygon points="471.80,289.85 475.20,289.85 473.50,293.55" fill="#fff" stroke="#52a852" stroke-width="1.1" stroke-linejoin="miter"/>
<polygon points="468.80,291.25 472.20,291.25 470.50,294.95" fill="#fff" stroke="#52a852" stroke-width="1.1" stroke-linejoin="miter"/>
<polygon points="468.80,296.75 472.20,296.75 470.50,300.45" fill="#fff" stroke="#52a852" stroke-width="1.1" stroke-linejoin="miter"/>
<polygon points="466.10,300.85 469.50,300.85 467.80,304.55" fill="#fff" stroke="#52a852" stroke-width="1.1" stroke-linejoin="miter"/>
<polygon points="468.30,303.45 471.70,303.45 470.00,307.15" fill="#fff" stroke="#52a852" stroke-width="1.1" stroke-linejoin="miter"/>
<polygon points="471.80,310.35 475.20,310.35 473.50,314.05" fill="#fff" stroke="#52a852" stroke-width="1.1" stroke-linejoin="miter"/>
<polygon points="468.80,311.95 472.20,311.95 470.50,315.65" fill="#fff" stroke="#52a852" stroke-width="1.1" stroke-linejoin="miter"/>
<polygon points="468.80,314.75 472.20,314.75 470.50,318.45" fill="#fff" stroke="#52a852" stroke-width="1.1" stroke-linejoin="miter"/>
<line x1="459.90" y1="314.90" x2="481.70" y2="314.90" stroke="#5cb85c" stroke-width="1"/>
<polygon points="496.40,284.45 499.80,284.45 498.10,288.15" fill="#fff" stroke="#1f4a80" stroke-width="1.1" stroke-linejoin="miter"/>
<polygon points="496.40,295.35 499.80,295.35 498.10,299.05" fill="#fff" stroke="#1f4a80" stroke-width="1.1" stroke-linejoin="miter"/>
<polygon points="496.40,315.25 499.80,315.25 498.10,318.95" fill="#2a4f80" stroke="#1f4a80" stroke-width="1.1" stroke-linejoin="miter"/>
<polygon points="497.00,315.85 500.40,315.85 498.70,319.55" fill="#2a4f80" stroke="#1f4a80" stroke-width="1.1" stroke-linejoin="miter"/>
<rect x="487.70" y="324.20" width="24.60" height="3.80" fill="#224f88"/>
<polygon points="487.80,323.75 491.20,323.75 489.50,327.45" fill="#3d66a0" stroke="#1f4a80" stroke-width="1.1" stroke-linejoin="miter"/>
<polygon points="490.30,323.75 493.70,323.75 492.00,327.45" fill="#3d66a0" stroke="#1f4a80" stroke-width="1.1" stroke-linejoin="miter"/>
<polygon points="492.80,323.75 496.20,323.75 494.50,327.45" fill="#3d66a0" stroke="#1f4a80" stroke-width="1.1" stroke-linejoin="miter"/>
<polygon points="495.30,323.75 498.70,323.75 497.00,327.45" fill="#3d66a0" stroke="#1f4a80" stroke-width="1.1" stroke-linejoin="miter"/>
<polygon points="497.80,323.75 501.20,323.75 499.50,327.45" fill="#3d66a0" stroke="#1f4a80" stroke-width="1.1" stroke-linejoin="miter"/>
<polygon points="500.30,323.75 503.70,323.75 502.00,327.45" fill="#3d66a0" stroke="#1f4a80" stroke-width="1.1" stroke-linejoin="miter"/>
<polygon points="502.80,323.75 506.20,323.75 504.50,327.45" fill="#3d66a0" stroke="#1f4a80" stroke-width="1.1" stroke-linejoin="miter"/>
<polygon points="505.30,323.75 508.70,323.75 507.00,327.45" fill="#3d66a0" stroke="#1f4a80" stroke-width="1.1" stroke-linejoin="miter"/>
<polygon points="508.30,323.75 511.70,323.75 510.00,327.45" fill="#3d66a0" stroke="#1f4a80" stroke-width="1.1" stroke-linejoin="miter"/>
<line x1="470.20" y1="239.90" x2="499.20" y2="239.90" stroke="#7a7a7a" stroke-width="1.3"/>
<circle cx="484.70" cy="234.90" r="1.0" fill="#1a1a1a"/>
</svg>
</body></html>
